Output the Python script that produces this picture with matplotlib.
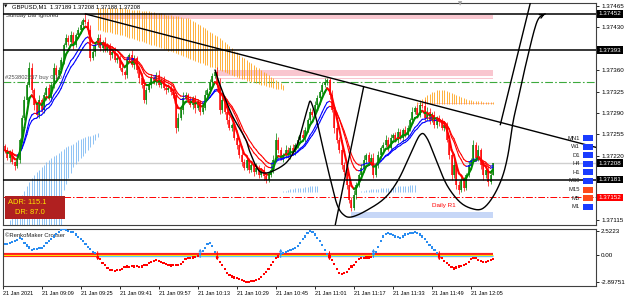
import numpy as np
import matplotlib
matplotlib.use("Agg")
import matplotlib.pyplot as plt
from matplotlib.collections import LineCollection
from matplotlib.patches import Rectangle

# ---------------- data ----------------
header = "GBPUSD,M1  1.37189 1.37208 1.37188 1.37208"
first_open = 137236
close_pts = [
    137229,137216,137226,137210,137203,137213,137246,137282,137311,137336,
    137364,137328,137303,137287,137311,137295,137319,137331,137314,137336,
    137364,137352,137360,137377,137401,137413,137406,137418,137401,137418,
    137426,137434,137442,137439,137426,137380,137390,137401,137413,137396,
    137406,137393,137400,137385,137390,137377,137380,137364,137357,137352,
    137377,137385,137368,137380,137360,137347,137336,137311,137328,137336,
    137347,137341,137352,137336,137344,137331,137328,137331,137324,137319,
    137265,137282,137295,137314,137319,137311,137303,137314,137298,137308,
    137292,137298,137319,137328,137341,137350,137357,137336,137295,137311,
    137292,137278,137265,137270,137249,137238,137221,137210,137200,137213,
    137197,137205,137193,137200,137189,137197,137187,137180,137189,137197,
    137213,137246,137229,137216,137221,137229,137221,137233,137226,137238,
    137246,137254,137249,137262,137278,137292,137287,137303,137314,137324,
    137336,137341,137344,137319,137295,137265,137246,137229,137205,137193,
    137172,137148,137135,137156,137172,137189,137200,137213,137221,137210,
    137216,137189,137205,137221,137233,137238,137246,137233,137249,137254,
    137246,137259,137249,137262,137254,137265,137278,137292,137298,137287,
    137303,137301,137282,137292,137278,137287,137270,137282,137275,137265,
    137270,137246,137221,137189,137205,137172,137164,137180,137167,137189,
    137205,137213,137238,137216,137229,137205,137189,137197,137177,137189,
    137208]
wick_up = [
    4,6,3,5,2,8,3,4,6,5, 9,7,3,5,8,4,6,3,7,5, 8,4,6,5,3,7,4,6,5,3,
    4,6,3,10,5,8,12,4,6,7, 3,9,5,4,6,8,3,5,7,4, 6,3,8,5,4,7,3,9,5,4,
    6,3,5,8,4,6,3,7,5,4, 6,8,3,10,5,4,7,3,6,5, 4,6,8,3,5,6,4,9,12,5,
    6,3,7,4,5,8,3,6,4,5, 3,6,4,8,5,3,7,4,6,12, 8,12,4,6,3,9,5,4,7,3,
    6,4,8,5,3,6,4,7,5,3, 4,6,4,3,8,5,7,4,6,5, 3,6,4,8,5,3,6,9,4,5,
    7,8,4,6,3,5,8,4,6,3, 5,7,4,3,6,5,4,7,3,6, 5,4,10,8,6,4,7,3,5,6,
    4,6,8,5,12,4,6,9,5,3, 6,4,8,5,9,4,6,3,7,5, 0]
wick_dn = [
    5,3,6,4,7,3,5,4,3,6, 4,5,8,3,6,4,5,7,3,4, 5,6,3,4,7,3,5,4,6,3,
    4,3,5,4,6,5,4,7,3,5, 6,4,3,8,5,4,6,3,5,7, 4,5,3,6,4,8,5,4,6,3,
    5,4,6,3,5,4,7,3,5,4, 8,5,4,6,3,5,4,6,8,3, 5,4,3,6,4,5,3,4,6,5,
    4,6,3,5,4,7,5,6,4,3, 5,4,6,3,5,4,6,5,3,4, 6,4,5,3,6,4,5,7,3,4,
    5,3,4,6,3,5,4,3,5,4, 3,4,5,6,4,8,5,4,6,5, 6,5,5,4,6,3,5,4,6,5,
    4,6,3,5,4,6,3,5,4,6, 3,5,4,6,3,4,5,3,4,6, 4,3,5,4,6,3,5,4,6,3,
    5,4,6,8,5,7,6,4,5,3, 4,6,3,5,4,6,8,5,7,4, 1]

osc = [
    1.1,1.15,1.2,1.3,1.4,1.5,1.75,1.6,1.2,0.95,
    0.75,0.5,0.55,0.6,0.65,0.7,0.9,1.2,1.4,1.6,
    1.9,2.2,2.4,2.55,2.65,2.6,2.5,2.4,2.35,2.1,
    1.85,1.6,1.45,1.1,0.8,0.55,0.3,0.15,-0.3,-0.45,
    -0.9,-1.1,-1.4,-1.6,-1.65,-1.7,-1.65,-1.6,-1.5,-1.3,
    -1.25,-1.3,-1.2,-1.25,-1.2,-1.3,-1.25,-1.1,-1.05,-0.9,
    -0.75,-0.65,-0.6,-0.65,-0.8,-0.9,-0.95,-1.05,-1.15,-1.1,
    -1.1,-1.05,-0.95,-0.75,-0.5,-0.4,-0.35,-0.3,-0.25,-0.15,
    0.1,0.35,0.7,1.1,1.2,0.9,0.25,-0.3,-0.75,-1.1,
    -1.5,-1.9,-2.1,-2.3,-2.4,-2.45,-2.55,-2.65,-2.75,-2.85,
    -2.85,-2.8,-2.75,-2.65,-2.6,-2.35,-2.0,-1.85,-1.5,-1.1,
    -0.8,-0.4,-0.2,0.02,0.15,0.3,0.4,0.5,0.6,0.7,
    0.9,1.2,1.6,1.9,2.3,2.5,2.4,2.1,1.7,1.4,
    1.0,0.5,0.1,-0.2,-0.6,-1.0,-1.5,-1.9,-2.0,-1.95,
    -1.85,-1.55,-1.25,-1.05,-0.8,-0.5,-0.4,-0.35,-0.3,-0.3,
    -0.25,0.1,0.3,0.8,1.4,1.9,2.2,2.3,2.2,2.05,
    1.9,1.8,1.7,1.9,2.1,2.2,2.25,2.3,2.35,2.3,
    2.1,1.9,1.6,1.3,1.0,0.75,0.5,0.2,-0.1,-0.4,
    -0.7,-0.85,-1.1,-1.3,-1.45,-1.35,-1.25,-1.2,-1.1,-0.95,
    -0.75,-0.5,-0.4,-0.4,-0.55,-0.65,-0.8,-0.75,-0.7,-0.6,
    -0.45]

# orange ribbon (bars 38..114), points
orange_start = 38
orange_top = [137462,137462,137462,137461,137461,137461,137462,137462,137462,137462,
              137461,137461,137460,137460,137459,137459,137458,137458,137457,137457,137456,137456,137455,137455,
              137454,137454,137453,137452,137451,137451,137450,137449,137448,137448,137447,137446,137446,137445,
              137443,137441,137439,137436,137434,
              137431,137429,137426,137423,137421,137418,137416,137413,
              137410,137406,137403,137399,137396,137392,137389,137385,
              137382,137380,137377,137374,137371,137369,137366,137363,137360,
              137357,137355,137352,137349,137347,137344,137341,137339,137336]
orange_bot = [137426,137425,137424,137423,137422,137422,137421,137420,137419,137418,
              137417,137416,137414,137413,137412,137411,137409,137408,137407,137406,137404,137403,137402,137401,
              137400,137398,137397,137395,137394,137392,137391,137389,137388,137386,137385,137383,137382,137380,
              137378,137377,137375,137374,137372,137371,137369,137368,137366,137365,137363,137362,137360,
              137358,137357,137355,137353,137352,137350,137349,137347,
              137346,137345,137343,137342,137341,137340,137339,137338,137336,
              137335,137334,137333,137332,137331,137330,137330,137329,137328]
# light-blue ribbon (bars 1..38)
blue_start = 1
blue_top = [137107,137115,137123,137132,137140,137148,
            137155,137162,137170,137177,137184,
            137188,137193,137197,137201,137205,137209,137213,
            137216,137219,137222,137225,137228,137231,137234,
            137236,137238,137240,137243,137245,137247,137249,
            137250,137252,137253,137254,137256,137257]
blue_bot = [137100]*23 + [137164,137173,137183,137192,137202,
            137207,137211,137216,137220,137225,137229,
            137235,137240,137246,137251]
# small light-blue histograms
lb_a_start = 114
lb_a_top = [137162,137163,137164,137165,137166,137167,137167,137168,137168,137169,
            137169,137170,137170,137171,137171]
lb_b_start = 146
lb_b_top = [137163,137163,137164,137164,137165,137165,137166,137166,137167,137167,
            137168,137168,137168,137169,137169,137170,137170,137170,137171,137171,
            137172,137172,137172]
lb_base = 137160
# small orange hump (bars 169..200)
oh_start = 169
oh_top = [137308,137311,137313,137316,137319,137321,137324,137325,137327,137328,
          137328,137327,137326,137324,137323,137321,137320,137318,137316,137314,
          137313,137311,137311,137310,137310,137309,137309,137308,137308,137308,
          137308,137308]
oh_base = 137304

# levels
h_black = [1.37452, 1.37393, 1.37181]
buy_level = 1.37341
r1_level = 1.37152
bid_level = 1.37208
pink_zones = [(39, 200, 1.37444, 1.37451), (86, 200, 1.37350, 1.37360), (86, 200, 1.37345, 1.37347)]
blue_zone = (142, 200, 1.37118, 1.37128)
# drawn objects (bar, price)
trend_pts = [(33, 1.37452), (171, 1.37308)]
line_a = [(135, 1.37100), (147, 1.37333)]
line_b = [(203, 1.37271), (215.6, 1.37475)]
curve_t = [86.1, 88.1, 93.0, 98.4, 100.4, 103.3, 105.7, 109.8, 115.6, 119.7, 122.1, 124.2,
           125.4, 127.9, 130.3, 133.2, 136.1, 138.9, 142.2, 148.4, 155.7, 161.1, 166.0,
           170.1, 172.9, 177.0, 181.1, 186.5, 191.8, 195.9, 200.0, 203.7, 206.1, 208.2,
           210.2, 213.9, 218.0, 221.3]
curve_p = [1.37360, 1.37336, 1.37287, 1.37249, 1.37226, 1.37200, 1.37192, 1.37195, 1.37210,
           1.37238, 1.37270, 1.37300, 1.37308, 1.37275, 1.37233, 1.37184, 1.37140, 1.37123,
           1.37120, 1.37131, 1.37151, 1.37180, 1.37221, 1.37254, 1.37249, 1.37210, 1.37172,
           1.37144, 1.37133, 1.37134, 1.37153, 1.37184, 1.37221, 1.37275, 1.37311, 1.37377,
           1.37439, 1.37452]

price_ticks = [1.37465, 1.37430, 1.37395, 1.37360, 1.37325, 1.37290, 1.37255, 1.37220,
               1.37185, 1.37150, 1.37115]
price_tick_labels = ["1.37465", "1.37430", "", "1.37360", "1.37325", "1.37290", "1.37255",
                     "1.37220", "", "", "1.37115"]
price_boxes = [(1.37452, "black"), (1.37393, "black"), (1.37208, "black"),
               (1.37181, "black"), (1.37152, "#FF0000")]
osc_ticks = [2.5223, 0.0, -2.89751]
osc_tick_labels = ["2.5223", "0.00", "-2.89751"]
time_labels = ["21 Jan 2021", "21 Jan 09:09", "21 Jan 09:25", "21 Jan 09:41", "21 Jan 09:57",
               "21 Jan 10:13", "21 Jan 10:29", "21 Jan 10:45", "21 Jan 11:01", "21 Jan 11:17",
               "21 Jan 11:33", "21 Jan 11:49", "21 Jan 12:05"]
time_label_bars = [-0.8, 15, 31, 47, 63, 79, 95, 111, 127, 143, 159, 175, 191]
tf_names = ["MN1", "W1", "D1", "H4", "H1", "M30", "M15", "M5", "M1"]
tf_colors = ["#1A3CFF"]*6 + ["#FF4A1A", "#FF4A1A", "#1A3CFF"]
adr_text = "ADR: 115.1"
dr_text = "DR: 87.0"

# ---------------- figure ----------------
plt.rcParams['font.family'] = ['Liberation Sans', 'DejaVu Sans']
W, H = 625, 298
fig = plt.figure(figsize=(W/100, H/100), dpi=100)
fig.patch.set_facecolor('white')
ax = fig.add_axes([3/W, 1-225/H, 593/W, 222/H])
ax2 = fig.add_axes([3/W, 1-286/H, 593/W, 57/H])
XMIN, XMAX = -0.8, 242.2
ax.set_xlim(XMIN, XMAX)
ax.set_ylim(1.371067, 1.374699)
ax2.set_xlim(XMIN, XMAX)
ax2.set_ylim(-3.29, 2.68)

def P(px, py):
    return ((px-3)/593, (225-py)/222)

FS = 4.5
SMALL = 4.2
c = np.array(close_pts)/1e5
o = np.concatenate([[first_open/1e5], c[:-1]])
hi = np.maximum(o, c) + np.array(wick_up)/1e5
lo = np.minimum(o, c) - np.array(wick_dn)/1e5
x = np.arange(len(c))

# ribbons / zones
for i, (t, b) in enumerate(zip(orange_top, orange_bot)):
    ax.vlines(orange_start+i, b/1e5, t/1e5, color="#FFA31A", lw=0.6, zorder=1)
for i, (t, b) in enumerate(zip(blue_top, blue_bot)):
    ax.vlines(blue_start+i, b/1e5, t/1e5, color="#7DB9F2", lw=0.6, zorder=1)
for i, t in enumerate(lb_a_top):
    ax.vlines(lb_a_start+i, lb_base/1e5, t/1e5, color="#7DB9F2", lw=0.6, zorder=1)
for i, t in enumerate(lb_b_top):
    ax.vlines(lb_b_start+i, lb_base/1e5, t/1e5, color="#7DB9F2", lw=0.6, zorder=1)
ax.fill_between([oh_start, oh_start+len(oh_top)-1], oh_base/1e5, (oh_base+3)/1e5, color="#F9C6CF", lw=0, zorder=0.8)
for i, t in enumerate(oh_top):
    ax.vlines(oh_start+i, oh_base/1e5, t/1e5, color="#FFA31A", lw=0.6, zorder=1)
for (x0, x1, p0, p1) in pink_zones:
    ax.fill_between([x0, x1], p0, p1, color="#F9C6CF", lw=0, zorder=0.5)
ax.fill_between([blue_zone[0], blue_zone[1]], blue_zone[2], blue_zone[3], color="#C7D7F7", lw=0, zorder=0.5)

# horizontal levels
ax.axhline(bid_level, color="#CFCFCF", lw=1.0, zorder=0.6)
ax.axhline(buy_level, color="#3DAA3D", lw=0.8, ls=(0, (7, 2, 1.5, 2)), zorder=0.7)
ax.axhline(r1_level, color="#FF0000", lw=0.7, ls=(0, (7, 2, 1.5, 2)), zorder=0.7)
for lv in h_black:
    ax.axhline(lv, color="black", lw=1.1, zorder=3)

# candles
cols = np.where(c >= o, "#008000", "#FF0000")
ax.vlines(x, lo, hi, colors=cols, lw=0.5, zorder=2)
bb = np.minimum(o, c); bt = np.maximum(o, c)
bt = np.where(bt - bb < 0.000015, bb + 0.000015, bt)
ax.vlines(x, bb, bt, colors=cols, lw=1.1, zorder=2)

# moving averages
def ema(a, n):
    k = 2/(n+1); out = np.empty_like(a); out[0] = a[0]
    for i in range(1, len(a)):
        out[i] = a[i]*k + out[i-1]*(1-k)
    return out

def colored_line(y, up, dn, lw, z):
    segs = [[(x[i], y[i]), (x[i+1], y[i+1])] for i in range(len(y)-1)]
    cl = [up if y[i+1] >= y[i] else dn for i in range(len(y)-1)]
    ax.add_collection(LineCollection(segs, colors=cl, linewidths=lw, zorder=z, capstyle='round'))

colored_line(ema(c, 11), "#0000FF", "#FF0000", 0.8, 2.5)
colored_line(ema(c, 14), "#0000FF", "#FF0000", 0.8, 2.5)
colored_line(ema(c, 5), "#008C00", "#FF0000", 1.5, 2.6)

# drawn objects
(t1, p1), (t2, p2) = trend_pts
slope = (p2-p1)/(t2-t1)
ax.plot([t1, XMAX], [p1, p1 + slope*(XMAX-t1)], color="black", lw=1.0, zorder=4)
ax.plot([line_a[0][0], line_a[1][0]], [line_a[0][1], line_a[1][1]], color="black", lw=1.0, zorder=4)
ax.plot([line_b[0][0], line_b[1][0]], [line_b[0][1], line_b[1][1]], color="black", lw=1.0, zorder=4)

def catmull(xs, ys, n=10):
    pts = np.column_stack([np.array(xs)*2.44, np.array(ys)/1.636e-5])
    pts = np.vstack([pts[0], pts, pts[-1]])
    out = []
    for i in range(1, len(pts)-2):
        p0, p1_, p2_, p3 = pts[i-1], pts[i], pts[i+1], pts[i+2]
        for t in np.linspace(0, 1, n, endpoint=False):
            t2_, t3 = t*t, t*t*t
            out.append(0.5*((2*p1_) + (-p0+p2_)*t + (2*p0-5*p1_+4*p2_-p3)*t2_ + (-p0+3*p1_-3*p2_+p3)*t3))
    out.append(pts[-2])
    out = np.array(out)
    return out[:, 0]/2.44, out[:, 1]*1.636e-5

cx, cy = catmull(curve_t, curve_p)
ax.plot(cx, cy, color="black", lw=1.0, zorder=4)
ax.annotate("", xy=(cx[-1], cy[-1]), xytext=(cx[-4], cy[-4]),
            arrowprops=dict(arrowstyle="->", color="black", lw=1.0, mutation_scale=7), zorder=4)

# axes styling main
ax.set_xticks([])
ax.yaxis.tick_right()
ax.set_yticks(price_ticks)
ax.set_yticklabels(price_tick_labels)
ax.tick_params(axis='y', length=2.5, width=0.6, pad=1.2, labelsize=FS, colors="black")
for s in ax.spines.values():
    s.set_linewidth(0.8); s.set_color("#404040")

for lv, colr in price_boxes:
    ax.text(1.0045, lv, f"{lv:.5f}", transform=ax.get_yaxis_transform(), fontsize=FS,
            color="white", va="center", ha="left", zorder=10, clip_on=False,
            bbox=dict(boxstyle="square,pad=0.2", fc=colr, ec=colr, lw=0))

# texts
ax.text(*P(4, 7), "\u25BC", transform=ax.transAxes, fontsize=3.2, va="center", ha="left", color="black",
        family=['DejaVu Sans'])
ax.text(*P(12, 7), header, transform=ax.transAxes, fontsize=SMALL, va="center", ha="left", color="black")
ax.text(*P(6, 16), "Sunday Bar Ignored", transform=ax.transAxes, fontsize=SMALL, va="center", ha="left", color="#303030")
ax.text(*P(5, 78), "#253802237 buy 0.10", transform=ax.transAxes, fontsize=SMALL, va="center", ha="left", color="#505050")
ax.text(*P(432, 205), "Daily R1", transform=ax.transAxes, fontsize=FS, va="center", ha="left", color="#FF0000", zorder=6)
ax.text(*P(460, 3.5), "\u25BC", transform=ax.transAxes, fontsize=4, va="center", ha="center", color="#A0A0A0",
        family=['DejaVu Sans'], clip_on=False)

# ADR box
x0, y0 = P(5, 219); x1, y1 = P(65, 196)
ax.add_patch(Rectangle((x0, y0), x1-x0, y1-y0, transform=ax.transAxes, fc="#B02020", ec="none", zorder=8))
ax.text(*P(8, 203), adr_text, transform=ax.transAxes, fontsize=5.4, color="#FFE600", va="center", ha="left", zorder=9)
ax.text(*P(15, 213), dr_text, transform=ax.transAxes, fontsize=5.4, color="#FFE600", va="center", ha="left", zorder=9)

# timeframe panel
for k, (nm, colr) in enumerate(zip(tf_names, tf_colors)):
    py = 138 + k*8.6
    ax.text(*P(580, py), nm, transform=ax.transAxes, fontsize=SMALL, color="#202020", va="center", ha="right", zorder=9)
    bx0, by0 = P(583, py+3); bx1, by1 = P(593, py-3)
    ax.add_patch(Rectangle((bx0, by0), bx1-bx0, by1-by0, transform=ax.transAxes, fc=colr, ec="none", zorder=9))

# ---------------- oscillator panel ----------------
v = np.array(osc)
last = len(v)-1
ax2.plot([XMIN, last], [0, 0], color="#FF2020", lw=3.0, zorder=1, solid_capstyle='butt')
ax2.plot([XMIN, last], [0, 0], color="#FFE000", lw=0.8, zorder=1.1, solid_capstyle='butt')
ax2.plot([38, last], [-0.12, -0.12], color="#55C8FF", lw=0.8, zorder=1.2, solid_capstyle='butt')
dcol = np.where(v >= 0, "#2A8CF0", "#FF0000")
ax2.scatter(x, v, marker="s", s=2.4, c=dcol, lw=0, zorder=3)
for i in range(1, len(v)):
    if v[i-1] >= 0 and v[i] < 0:
        ax2.annotate("", xy=(i, -0.9), xytext=(i, 0.6),
                     arrowprops=dict(arrowstyle="->", color="#FF0000", lw=0.7, mutation_scale=4), zorder=4)
    elif v[i-1] < 0 and v[i] >= 0:
        ax2.annotate("", xy=(i, 0.9), xytext=(i, -0.6),
                     arrowprops=dict(arrowstyle="->", color="#2A8CF0", lw=0.7, mutation_scale=4), zorder=4)

ax2.text(0.003, 0.93, "\u00A9RenkoMaker Crosser", transform=ax2.transAxes, fontsize=SMALL,
         va="top", ha="left", color="#202020", zorder=2)
ax2.yaxis.tick_right()
ax2.set_yticks(osc_ticks)
ax2.set_yticklabels(osc_tick_labels)
ax2.tick_params(axis='y', length=2.5, width=0.6, pad=1.2, labelsize=FS)
ax2.set_xticks(time_label_bars)
ax2.set_xticklabels(time_labels)
for lbl in ax2.get_xticklabels():
    lbl.set_ha("left")
ax2.tick_params(axis='x', length=2.5, width=0.6, pad=1.0, labelsize=4.0)
for s in ax2.spines.values():
    s.set_linewidth(0.8); s.set_color("#404040")

fig.savefig("out.png", dpi=100)
